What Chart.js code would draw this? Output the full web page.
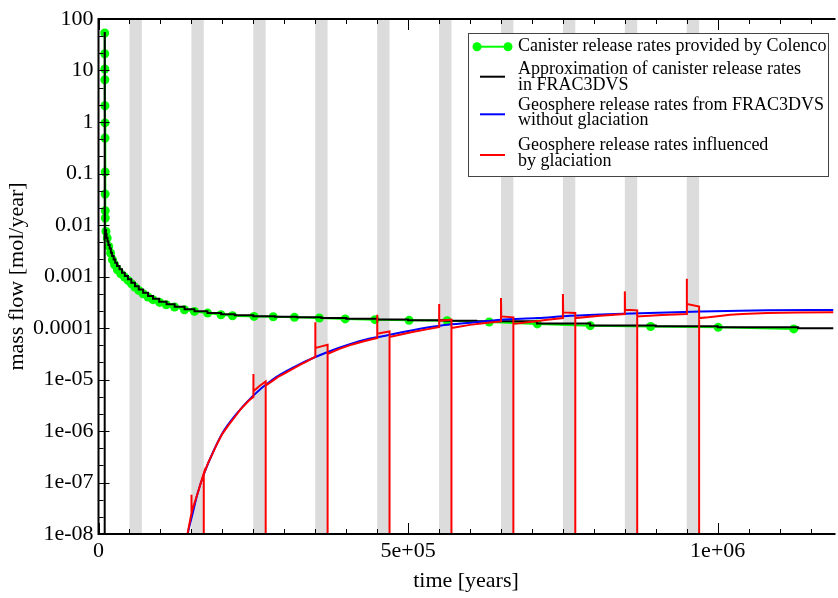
<!DOCTYPE html>
<html>
<head>
<meta charset="utf-8">
<script src="https://cdn.jsdelivr.net/npm/chart.js@4/dist/chart.umd.min.js"></script>
<style>
html,body{margin:0;padding:0;background:#fff;}
#wrap{width:838px;height:598px;}
</style>
</head>
<body>
<div id="wrap"><canvas id="c" width="838" height="598"></canvas></div>
<script>
// ---- data (years, mol/year) ----
const greenT = [10000,10100,10200,10300,10400,10500,10600,10700,10800,10900,11000,
  12000,14000,16500,19500,22500,26000,30500,36000,42000,47800,53300,58600,65000,71900,79900,88000,98700,109500,122800,138800,154900,176200,197800,216400,
  251200,282200,316500,356700,398400,446500,501600,563000,631000,708700,794200,891700,1000800,1122800];
const greenV = [53.5,21.2,10.7,6.6,2.07,0.96,0.49,0.107,0.040,0.0189,0.0137,
  7.5e-3,5.6e-3,3.84e-3,2.86e-3,2.12e-3,1.69e-3,1.35e-3,1.13e-3,9.77e-4,8.39e-4,7.24e-4,6.25e-4,5.37e-4,4.63e-4,4.0e-4,3.55e-4,3.14e-4,2.83e-4,2.56e-4,2.26e-4,2.10e-4,1.95e-4,1.81e-4,1.73e-4,
  1.68e-4,1.65e-4,1.61e-4,1.56e-4,1.50e-4,1.45e-4,1.41e-4,1.38e-4,1.31e-4,1.20e-4,1.11e-4,1.07e-4,1.03e-4,9.6e-5];

const blackT = [10000,10000,10200,12000,13000,14500,16000,18000,20000,22000,24500,27000,30000,34000,38000,42500,47500,53000,59000,65000,72000,80000,88000,98000,110000,123000,139000,155000,176000,198000,220000,250000,285000,320000,360000,400000,450000,500000,560000,610000,708000,794000,900000,1000000,1130000,1187000];
const blackV = [1e-12,53.5,8.0e-3,6.6e-3,5.6e-3,4.8e-3,4.1e-3,3.5e-3,2.9e-3,2.5e-3,2.15e-3,1.85e-3,1.6e-3,1.38e-3,1.18e-3,1.02e-3,8.8e-4,7.6e-4,6.5e-4,5.6e-4,4.85e-4,4.2e-4,3.7e-4,3.25e-4,2.9e-4,2.6e-4,2.32e-4,2.12e-4,1.96e-4,1.85e-4,1.77e-4,1.70e-4,1.66e-4,1.61e-4,1.56e-4,1.51e-4,1.46e-4,1.42e-4,1.39e-4,1.35e-4,1.22e-4,1.12e-4,1.08e-4,1.03e-4,9.9e-5,9.9e-5];

const blueT = [136000,144100,152200,160200,170900,184300,200300,221800,248500,280600,318100,350200,387600,430500,451800,505300,558900,601600,649800,708700,762100,847800,973000,1080000,1187000];
const blueV = [3e-9,1.01e-8,2.56e-8,6.25e-8,1.53e-7,3.74e-7,9.15e-7,2.07e-6,4.70e-6,9.91e-6,1.80e-5,2.73e-5,4.09e-5,5.93e-5,6.68e-5,8.98e-5,1.14e-4,1.27e-4,1.45e-4,1.56e-4,1.73e-4,1.90e-4,2.10e-4,2.20e-4,2.24e-4];

const redT = [136000,143000,150000,150000,150400,155000,160000,165000,170000,170000,170000,177000,184000,192000,200000,210000,222000,229000,236000,243000,
  250000,250000,250400,260000,270000,270000,270000,281000,290000,300000,310000,318000,326000,335000,342000,
  350000,350000,350400,360000,370000,370000,370000,388000,410000,430000,
  450000,450000,450400,460000,470000,470000,470000,505000,530000,
  550000,550000,550400,570000,570000,570000,600000,625000,
  650000,650000,650400,670000,670000,670000,700000,725000,
  750000,750000,750400,770000,770000,770000,810000,
  850000,850000,850400,870000,870000,870000,910000,
  950000,950000,950400,970000,970000,970000,985000,1000000,1020000,1040000,1080000,1130000,1187000];
const redV = [3e-9,9e-9,2.5e-8,5.8e-8,2.6e-8,4.0e-8,6.1e-8,9.6e-8,1.50e-7,1e-12,1.45e-7,2.4e-7,3.6e-7,5.8e-7,8.8e-7,1.3e-6,2.0e-6,2.6e-6,3.2e-6,3.9e-6,
  4.6e-6,1.28e-5,5.9e-6,7.5e-6,9.2e-6,1e-12,7.6e-6,9.4e-6,1.12e-5,1.3e-5,1.52e-5,1.72e-5,1.95e-5,2.2e-5,2.47e-5,
  2.75e-5,1.29e-4,4.09e-5,4.4e-5,4.74e-5,1e-12,3.13e-5,3.9e-5,4.8e-5,5.6e-5,
  6.4e-5,1.81e-4,7.74e-5,8.2e-5,8.59e-5,1e-12,6.68e-5,8.3e-5,9.4e-5,
  1.04e-4,2.92e-4,1.38e-4,1.45e-4,1e-12,1.0e-4,1.15e-4,1.25e-4,
  1.34e-4,3.83e-4,1.68e-4,1.61e-4,1e-12,1.20e-4,1.32e-4,1.45e-4,
  1.56e-4,4.57e-4,2.01e-4,1.95e-4,1e-12,1.56e-4,1.72e-4,
  1.87e-4,5.14e-4,2.25e-4,2.20e-4,1e-12,1.68e-4,1.78e-4,
  1.87e-4,9.06e-4,2.92e-4,2.62e-4,1e-12,1.56e-4,1.62e-4,1.70e-4,1.80e-4,1.88e-4,1.95e-4,2.0e-4,2.03e-4];

// glaciation periods (years)
const glacStart = [50000,150000,250000,350000,450000,550000,650000,750000,850000,950000];
const glacEnd   = [70000,170000,270000,370000,470000,570000,670000,770000,870000,970000];

// axis ticks
const xTickVals = [0,500000,1000000];
const xTickLabels = ['0','5e+05','1e+06'];
const yTickVals = [1e-8,1e-7,1e-6,1e-5,1e-4,1e-3,1e-2,1e-1,1,10,100];
const yTickLabels = ['1e-08','1e-07','1e-06','1e-05','0.0001','0.001','0.01','0.1','1','10','100'];

const seriesNames = [
  ['Canister release rates provided by Colenco'],
  ['Approximation of canister release rates','in FRAC3DVS'],
  ['Geosphere release rates from FRAC3DVS','without glaciation'],
  ['Geosphere release rates influenced','by glaciation']
];
const seriesColors = ['#00ff00','#000000','#0000ff','#ff0000'];

const zip = (t,v) => t.map((x,i)=>({x:x,y:v[i]}));
const FONT = 'Liberation Serif';

const decor = {
  id:'decor',
  beforeDatasetsDraw(chart){
    const {ctx, chartArea:a, scales:{x}} = chart;
    ctx.save();
    ctx.fillStyle = '#dcdcdc';
    for (let i=0;i<glacStart.length;i++){
      const x1 = x.getPixelForValue(glacStart[i]);
      const x2 = x.getPixelForValue(glacEnd[i]);
      ctx.fillRect(x1, a.top, x2-x1, a.bottom-a.top);
    }
    ctx.restore();
  },
  afterDraw(chart){
    const {ctx, chartArea:a, scales:{x,y}} = chart;
    ctx.save();
    // ticks (inward)
    ctx.strokeStyle = '#000';
    ctx.lineWidth = 1;
    ctx.beginPath();
    for (let v=0; v<=x.max; v+=50000){
      const px = Math.round(x.getPixelForValue(v))+0.5;
      const major = (v % 500000) === 0;
      const L = major ? 11 : 5;
      ctx.moveTo(px, a.bottom); ctx.lineTo(px, a.bottom-L);
      ctx.moveTo(px, a.top); ctx.lineTo(px, a.top+L);
    }
    for (let k=-8;k<=2;k++){
      for (let j=0;j<3;j++){
        const val = Math.pow(10, k + j/3);
        if (val > 100) continue;
        const py = Math.round(y.getPixelForValue(val))+0.5;
        const L = j===0 ? 11 : 5;
        ctx.moveTo(a.left, py); ctx.lineTo(a.left+L, py);
      }
    }
    ctx.stroke();
    // frame
    ctx.lineWidth = 2;
    ctx.beginPath();
    ctx.moveTo(a.right+2, a.top); ctx.lineTo(a.left, a.top); ctx.lineTo(a.left, a.bottom); ctx.lineTo(a.right+2, a.bottom);
    ctx.stroke();
    // legend
    const bx = 468.5, by = 33.5, bw = 360, bh = 143;
    ctx.fillStyle = '#fff';
    ctx.fillRect(bx, by, bw, bh);
    ctx.strokeStyle = '#444';
    ctx.lineWidth = 1;
    ctx.strokeRect(bx, by, bw, bh);
    ctx.font = '18px "' + FONT + '"';
    ctx.textBaseline = 'middle';
    ctx.textAlign = 'left';
    ctx.fillStyle = '#000';
    const lineYs = [[46.7],[69.3,85],[105,120.7],[145,161.7]];
    const symYs = [46.7,76.7,114.3,155];
    for (let i=0;i<seriesNames.length;i++){
      const sy = symYs[i];
      ctx.strokeStyle = seriesColors[i];
      ctx.lineWidth = 2;
      ctx.beginPath();
      if (i===0){ ctx.moveTo(477, sy); ctx.lineTo(508, sy); }
      else { ctx.moveTo(480, sy); ctx.lineTo(505, sy); }
      ctx.stroke();
      if (i===0){
        ctx.fillStyle = seriesColors[0];
        ctx.beginPath(); ctx.arc(477, sy, 4.5, 0, Math.PI*2); ctx.fill();
        ctx.beginPath(); ctx.arc(508, sy, 4.5, 0, Math.PI*2); ctx.fill();
      }
      ctx.fillStyle = '#000';
      seriesNames[i].forEach((s,j)=>{ ctx.fillText(s, 518, lineYs[i][j]); });
    }
    ctx.restore();
  }
};

new Chart(document.getElementById('c').getContext('2d'), {
  type:'line',
  data:{
    datasets:[
      {label:seriesNames[3].join(' '), data:zip(redT,redV), borderColor:seriesColors[3], borderWidth:2, pointRadius:0, tension:0, order:1},
      {label:seriesNames[2].join(' '), data:zip(blueT,blueV), borderColor:seriesColors[2], borderWidth:2, pointRadius:0, cubicInterpolationMode:'monotone', order:2},
      {label:seriesNames[1].join(' '), data:zip(blackT,blackV), borderColor:seriesColors[1], borderWidth:2, pointRadius:0, stepped:true, order:3},
      {label:seriesNames[0].join(' '), data:zip(greenT,greenV), borderColor:seriesColors[0], backgroundColor:seriesColors[0], borderWidth:2, pointRadius:4.5, pointBorderWidth:0, pointBackgroundColor:seriesColors[0], order:4}
    ]
  },
  options:{
    responsive:false,
    animation:false,
    events:[],
    layout:{padding:{top:19,right:0,left:0,bottom:0}},
    plugins:{legend:{display:false}, tooltip:{enabled:false}},
    scales:{
      x:{
        type:'linear', min:0, max:1187000, position:'bottom',
        grid:{display:false, drawTicks:false}, border:{display:false},
        afterBuildTicks:(s)=>{ s.ticks = xTickVals.map(v=>({value:v})); },
        afterFit:(s)=>{ s.height = 64; },
        ticks:{autoSkip:false, maxRotation:0, padding:4, color:'#000', font:{family:FONT,size:22},
          callback:(v,i)=>xTickLabels[i]},
        title:{display:true, text:'time [years]', color:'#000', font:{family:FONT,size:22}, padding:{top:0,bottom:4}}
      },
      y:{
        type:'logarithmic', min:1e-8, max:100, position:'left',
        grid:{display:false, drawTicks:false}, border:{display:false},
        afterBuildTicks:(s)=>{ s.ticks = yTickVals.map(v=>({value:v})); },
        afterFit:(s)=>{ s.width = 98.5; },
        ticks:{autoSkip:false, padding:5, color:'#000', font:{family:FONT,size:22},
          callback:(v,i)=>yTickLabels[i]},
        title:{display:true, text:'mass flow [mol/year]', color:'#000', font:{family:FONT,size:22}, padding:{top:4,bottom:0}}
      }
    }
  },
  plugins:[decor]
});
</script>
</body>
</html>
